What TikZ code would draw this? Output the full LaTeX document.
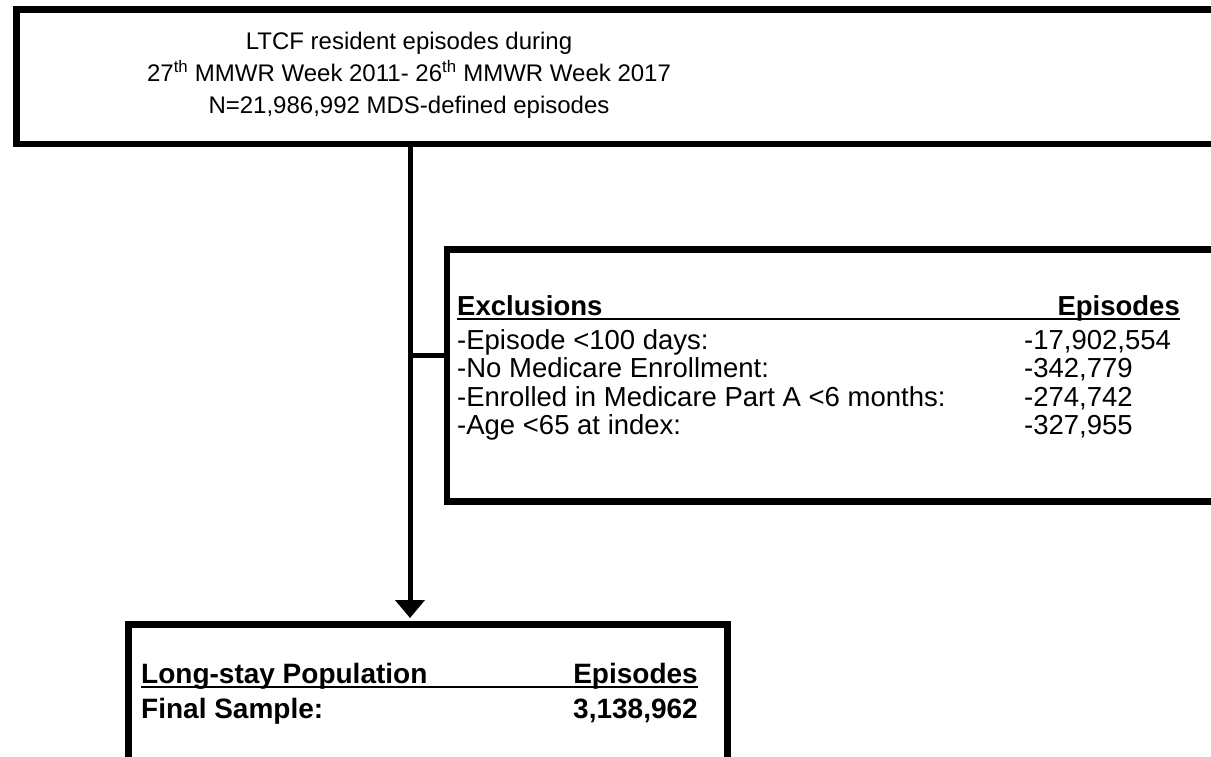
\documentclass[tikz,border=0pt]{standalone}
\usepackage{fontspec}
\setmainfont{Liberation Sans}
\usetikzlibrary{arrows.meta}
\begin{document}
\begin{tikzpicture}[x=1pt,y=-1pt,
  box/.style={draw=black, line width=6.5pt, inner sep=0pt, anchor=north west},
  conn/.style={draw=black, line width=5pt},
  toptxt/.style={font=\fontsize{24}{32}\selectfont, align=center, inner sep=0pt},
  extxt/.style={font=\fontsize{27.5}{28}\selectfont, inner sep=0pt},
  bottxt/.style={font=\fontsize{28}{30}\bfseries\selectfont, inner sep=0pt},
  uline/.style={draw=black, line width=2.5pt}]
\useasboundingbox (0,0) rectangle (1211,757);
\clip (0,0) rectangle (1211,757);
\fill[white] (0,0) rectangle (1211,757);
% boxes
\node[box, minimum width=1250pt, minimum height=134.5pt] (top) at (13,6.5) {};
\node[box, minimum width=820pt, minimum height=252pt] (excl) at (443.5,246) {};
\node[box, minimum width=599pt, minimum height=200pt] (final) at (125,621) {};
% top text
\node[toptxt] (toptext) at (409,75) {LTCF resident episodes during\\27\textsuperscript{th} MMWR Week 2011- 26\textsuperscript{th} MMWR Week 2017\\N=21,986,992 MDS-defined episodes};
% exclusions text
\node[extxt, anchor=base west] (exh) at (457,315) {\textbf{Exclusions}};
\node[extxt, anchor=base east] (exhe) at (1180,315) {\textbf{Episodes}};
\draw[uline] (exh.base west) ++(0,4) coordinate (ul1) -- (ul1 -| exhe.east);
\node[extxt, anchor=base west] (r1) at (457,349) {-Episode <100 days:};
\node[extxt, anchor=base west] (r2) at (457,377) {-No Medicare Enrollment:};
\node[extxt, anchor=base west] (r3) at (457,406) {-Enrolled in Medicare Part A <6 months:};
\node[extxt, anchor=base west] (r4) at (457,434) {-Age <65 at index:};
\node[extxt, anchor=base west] (n1) at (1024,349) {-17,902,554};
\node[extxt, anchor=base west] (n2) at (1024,377) {-342,779};
\node[extxt, anchor=base west] (n3) at (1024,406) {-274,742};
\node[extxt, anchor=base west] (n4) at (1024,434) {-327,955};
% final text
\node[bottxt, anchor=base west] (fh) at (141,683) {Long-stay Population};
\node[bottxt, anchor=base east] (fhe) at (698,683) {Episodes};
\draw[uline] (fh.base west) ++(0,4) coordinate (ul2) -- (ul2 -| fhe.east);
\node[bottxt, anchor=base west] (fs) at (141,718) {Final Sample:};
\node[bottxt, anchor=base east] (fn) at (698,718) {3,138,962};
% connectors
\coordinate (split) at (410,355.5);
\draw[conn, -{Triangle[width=29pt,length=18pt]}, shorten >=3pt] (top.south -| split) -- (final.north -| split);
\draw[conn] (split) -- (split -| excl.west);
\end{tikzpicture}
\end{document}
